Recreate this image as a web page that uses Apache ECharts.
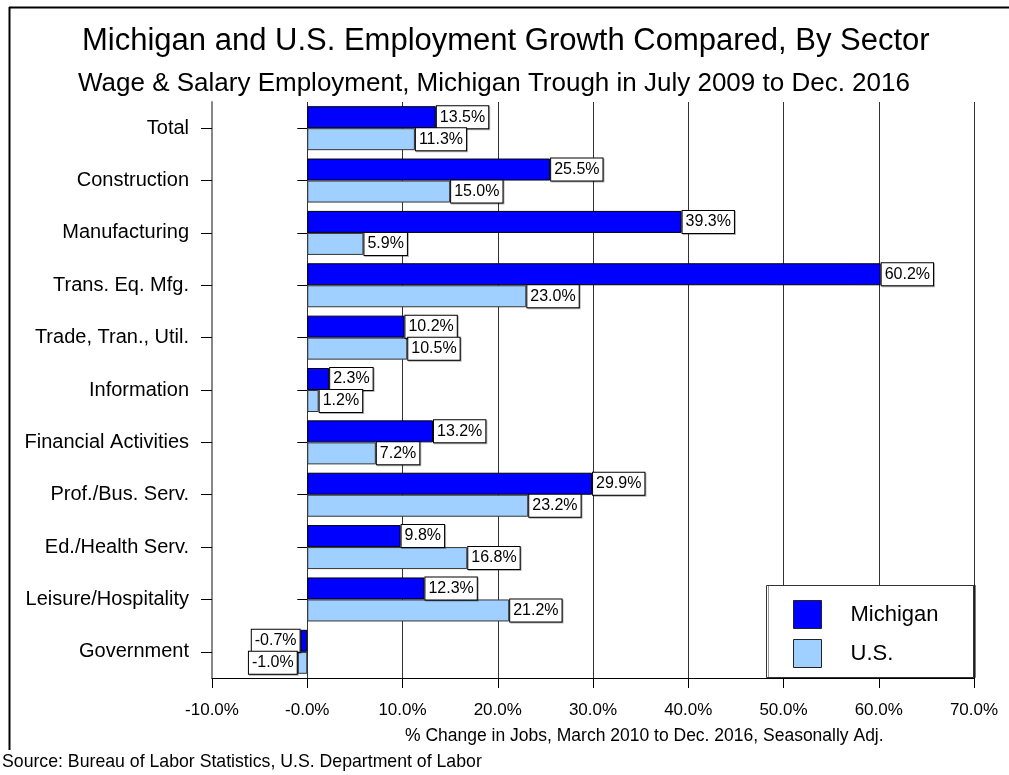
<!DOCTYPE html>
<html>
<head>
<meta charset="utf-8">
<script src="https://cdn.jsdelivr.net/npm/echarts@6/dist/echarts.min.js"></script>
<style>
  html, body { margin: 0; padding: 0; background: #fff; }
  #main { width: 1009px; height: 775px; }
</style>
</head>
<body>
<div id="main"></div>
<script>
  // sectors, top to bottom
  var sectors = ['Total', 'Construction', 'Manufacturing', 'Trans. Eq. Mfg.', 'Trade, Tran., Util.',
    'Information', 'Financial Activities', 'Prof./Bus. Serv.', 'Ed./Health Serv.', 'Leisure/Hospitality', 'Government'];
  // % change in jobs
  var michigan = [13.5, 25.5, 39.3, 60.2, 10.2, 2.3, 13.2, 29.9, 9.8, 12.3, -0.7];
  var usa = [11.3, 15.0, 5.9, 23.0, 10.5, 1.2, 7.2, 23.2, 16.8, 21.2, -1.0];
  var xTicks = [-10, 0, 10, 20, 30, 40, 50, 60, 70];

  var font = '"Liberation Sans", Arial, sans-serif';

  function pct(v) {
    return (v === 0 ? '-0.0' : v.toFixed(1)) + '%';
  }
  // negative bars get their label on the left side
  function toData(arr) {
    return arr.map(function (v) {
      return v < 0 ? { value: v, label: { position: 'left' } } : v;
    });
  }

  var labelStyle = {
    show: true,
    position: 'right',
    distance: 1,
    formatter: function (p) { return pct(p.value); },
    color: '#000',
    fontFamily: font,
    fontSize: 16,
    lineHeight: 17,
    backgroundColor: '#fff',
    borderColor: '#000',
    borderWidth: 1,
    padding: [3, 3, 2, 3],
    shadowColor: 'rgba(0,0,0,0.3)',
    shadowOffsetX: 1,
    shadowOffsetY: 1
  };

  var chart = echarts.init(document.getElementById('main'));
  var option = {
    animation: false,
    backgroundColor: '#fff',
    textStyle: { fontFamily: font },
    title: [
      {
        text: 'Michigan and U.S. Employment Growth Compared, By Sector',
        left: 82, top: 26, padding: 0,
        textStyle: { fontFamily: font, fontSize: 31, fontWeight: 'normal', color: '#000' }
      },
      {
        text: 'Wage & Salary Employment, Michigan Trough in July 2009 to Dec. 2016',
        left: 78, top: 71, padding: 0,
        textStyle: { fontFamily: font, fontSize: 26, fontWeight: 'normal', color: '#000' }
      },
      {
        text: '% Change in Jobs, March 2010 to Dec. 2016, Seasonally Adj.',
        left: 405, top: 727, padding: 0,
        textStyle: { fontFamily: font, fontSize: 17.5, fontWeight: 'normal', color: '#000' }
      },
      {
        text: 'Source: Bureau of Labor Statistics, U.S. Department of Labor',
        left: 2, top: 753, padding: 0,
        textStyle: { fontFamily: font, fontSize: 17.7, fontWeight: 'normal', color: '#000' }
      }
    ],
    graphic: [
      { type: 'line', shape: { x1: 9, y1: 7.5, x2: 1009, y2: 7.5 }, style: { stroke: '#000', lineWidth: 2 } },
      { type: 'line', shape: { x1: 9.5, y1: 7, x2: 9.5, y2: 750 }, style: { stroke: '#000', lineWidth: 2 } },
      {
        type: 'rect', z: 5,
        shape: { x: 766.5, y: 585.5, width: 207, height: 92 },
        style: { fill: '#fff', stroke: '#333', lineWidth: 1, shadowColor: 'rgba(0,0,0,0.4)', shadowOffsetX: 2, shadowOffsetY: 0 }
      }
    ],
    legend: {
      orient: 'vertical',
      left: 766, top: 586,
      z: 10,
      padding: [14, 35, 14, 27],
      icon: 'rect',
      itemWidth: 28, itemHeight: 28, itemGap: 10,
      itemStyle: { borderColor: '#222', borderWidth: 1 },
      textStyle: { fontFamily: font, fontSize: 22, color: '#000', padding: [0, 0, 0, 24] },
      data: ['Michigan', 'U.S.']
    },
    grid: { left: 212, right: 35, top: 102, bottom: 97, containLabel: false },
    xAxis: {
      type: 'value',
      min: -10, max: 70, interval: 10,
      axisLine: { show: true, lineStyle: { color: '#000', width: 1 } },
      axisTick: { show: true, length: 10, lineStyle: { color: '#000' } },
      axisLabel: {
        margin: 24, fontSize: 17, color: '#000', fontFamily: font,
        formatter: pct
      },
      splitLine: { show: true, lineStyle: { color: '#333', width: 1 } }
    },
    yAxis: [
      {
        type: 'category',
        data: sectors,
        inverse: true,
        axisLine: { show: true, onZero: false, lineStyle: { color: '#888', width: 2 } },
        axisTick: { show: true, alignWithLabel: true, length: 11, lineStyle: { color: '#000' } },
        axisLabel: { margin: 23, fontSize: 20, color: '#000', fontFamily: font }
      },
      {
        type: 'category',
        data: sectors,
        inverse: true,
        position: 'left',
        offset: -95.25,
        axisLine: { show: false, onZero: false },
        axisTick: { show: true, alignWithLabel: true, length: 10, lineStyle: { color: '#000' } },
        axisLabel: { show: false }
      }
    ],
    series: [
      {
        name: 'Michigan',
        type: 'bar',
        barWidth: 22,
        barGap: '0%',
        itemStyle: { color: '#0000ff', borderColor: '#000', borderWidth: 1 },
        label: labelStyle,
        data: toData(michigan)
      },
      {
        name: 'U.S.',
        type: 'bar',
        barWidth: 22,
        barGap: '0%',
        itemStyle: { color: '#a0d0ff', borderColor: '#333', borderWidth: 1 },
        label: labelStyle,
        data: toData(usa)
      }
    ]
  };
  chart.setOption(option);
</script>
</body>
</html>
